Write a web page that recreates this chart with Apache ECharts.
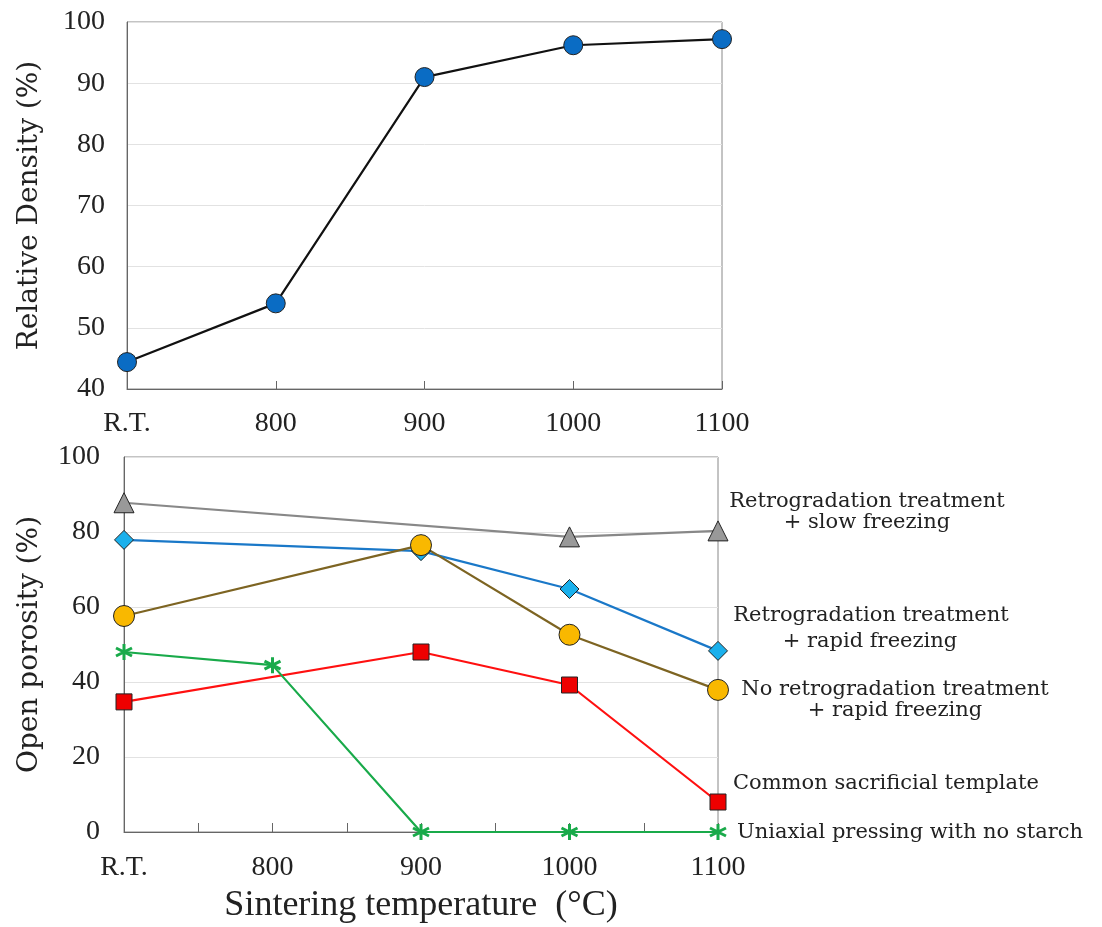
<!DOCTYPE html>
<html>
<head>
<meta charset="utf-8">
<script src="https://cdn.jsdelivr.net/npm/echarts@6/dist/echarts.min.js"></script>
<style>html,body{margin:0;padding:0;background:#fff;}#c{width:1102px;height:927px;}</style>
</head>
<body>
<div id="c"></div>
<script>
// Data
const categories = ['R.T.', '800', '900', '1000', '1100'];
const relativeDensity = [44.4, 54.0, 91.0, 96.2, 97.2];
const slowFreezing = [87.8, null, null, 78.7, 80.3];
const rapidFreezing = [77.9, null, 74.9, 64.8, 48.3];
const noRetroRapid = [57.6, null, 76.5, 52.6, 37.9];
const commonTemplate = [34.7, null, 48.0, 39.2, 8.0];
const uniaxialPressing = [48.0, 44.5, 0, 0, 0];
const topYTicks = { min: 40, max: 100, interval: 10 };
const bottomYTicks = { min: 0, max: 100, interval: 20 };

function pairs(arr) {
  return arr.map((v, i) => [i, v]);
}

const serif = 'Liberation Serif';
const annoFont = 'DejaVu Serif';
const asterisk = 'path://M10,0 L10,20 M1.34,5 L18.66,15 M1.34,15 L18.66,5';

const chart = echarts.init(document.getElementById('c'), null, { renderer: 'canvas' });

function xAxisCfg(gridIndex, interval, tickLen, margin, extra) {
  return Object.assign({
    type: 'value', gridIndex: gridIndex, min: 0, max: categories.length - 1, interval: interval,
    axisLine: { show: true, lineStyle: { color: '#666', width: 1 } },
    axisTick: { show: true, inside: true, length: tickLen, lineStyle: { color: '#666' } },
    splitLine: { show: false },
    axisLabel: {
      margin: margin, fontFamily: serif, fontSize: 28, color: '#222',
      formatter: function (v) { return Number.isInteger(v) ? categories[v] : ''; }
    }
  }, extra || {});
}

function yAxisCfg(gridIndex, ticks, name, gap, margin) {
  return {
    type: 'value', gridIndex: gridIndex, min: ticks.min, max: ticks.max, interval: ticks.interval,
    name: name, nameLocation: 'middle', nameGap: gap, nameRotate: 90,
    nameTextStyle: { fontFamily: annoFont, fontSize: 28, color: '#222' },
    axisLine: { show: true, lineStyle: { color: '#666', width: 1 } },
    axisTick: { show: false },
    splitLine: { show: true, lineStyle: { color: '#e2e2e2', width: 1 } },
    axisLabel: { margin: margin, fontFamily: serif, fontSize: 28, color: '#222' }
  };
}

function lineSeries(data, xi, color, symbol, size, fill, extra) {
  return Object.assign({
    type: 'line', xAxisIndex: xi, yAxisIndex: xi, data: pairs(data), connectNulls: true,
    symbol: symbol, symbolSize: size, showSymbol: true,
    lineStyle: { color: color, width: 2.2 },
    itemStyle: { color: fill, borderColor: '#222', borderWidth: 1 },
    emphasis: { disabled: true },
    animation: false, z: 3
  }, extra || {});
}

function txt(text, x, y, align) {
  return {
    type: 'text', x: x, y: y,
    style: { text: text, fontFamily: annoFont, fontSize: 21, fill: '#222', textAlign: align || 'center', textVerticalAlign: 'middle' }
  };
}

chart.setOption({
  animation: false,
  grid: [
    { left: 127, width: 595, top: 22, height: 367, show: true, borderColor: '#888', borderWidth: 1, backgroundColor: 'transparent' },
    { left: 124, width: 594, top: 457, height: 375, show: true, borderColor: '#888', borderWidth: 1, backgroundColor: 'transparent' }
  ],
  xAxis: [
    xAxisCfg(0, 1, 8, 21),
    xAxisCfg(1, 0.5, 9, 22, {
      name: 'Sintering temperature  (°C)', nameLocation: 'middle', nameGap: 56,
      nameTextStyle: { fontFamily: serif, fontSize: 36, color: '#222' }
    })
  ],
  yAxis: [
    yAxisCfg(0, topYTicks, 'Relative Density (%)', 83, 22),
    yAxisCfg(1, bottomYTicks, 'Open porosity (%)', 80, 24)
  ],
  series: [
    lineSeries(relativeDensity, 0, '#111', 'circle', 19, '#0a6cc4'),
    lineSeries(slowFreezing, 1, '#888', 'triangle', 20, '#999'),
    lineSeries(rapidFreezing, 1, '#1a78c8', 'diamond', 19, '#1ab0ec'),
    lineSeries(noRetroRapid, 1, '#7d6422', 'circle', 21, '#f9b800'),
    lineSeries(commonTemplate, 1, '#ff1010', 'rect', 16, '#ee0000'),
    lineSeries(uniaxialPressing, 1, '#19aa4a', asterisk, 16, 'none', {
      itemStyle: { color: 'none', borderColor: '#19aa4a', borderWidth: 3 }
    })
  ],
  graphic: [
    txt('Retrogradation treatment', 867, 502),
    txt('+ slow freezing', 867, 523),
    txt('Retrogradation treatment', 871, 616),
    txt('+ rapid freezing', 870, 642),
    txt('No retrogradation treatment', 895, 690),
    txt('+ rapid freezing', 895, 711),
    txt('Common sacrificial template', 733, 784, 'left'),
    txt('Uniaxial pressing with no starch', 737, 833, 'left')
  ]
});
</script>
</body>
</html>
